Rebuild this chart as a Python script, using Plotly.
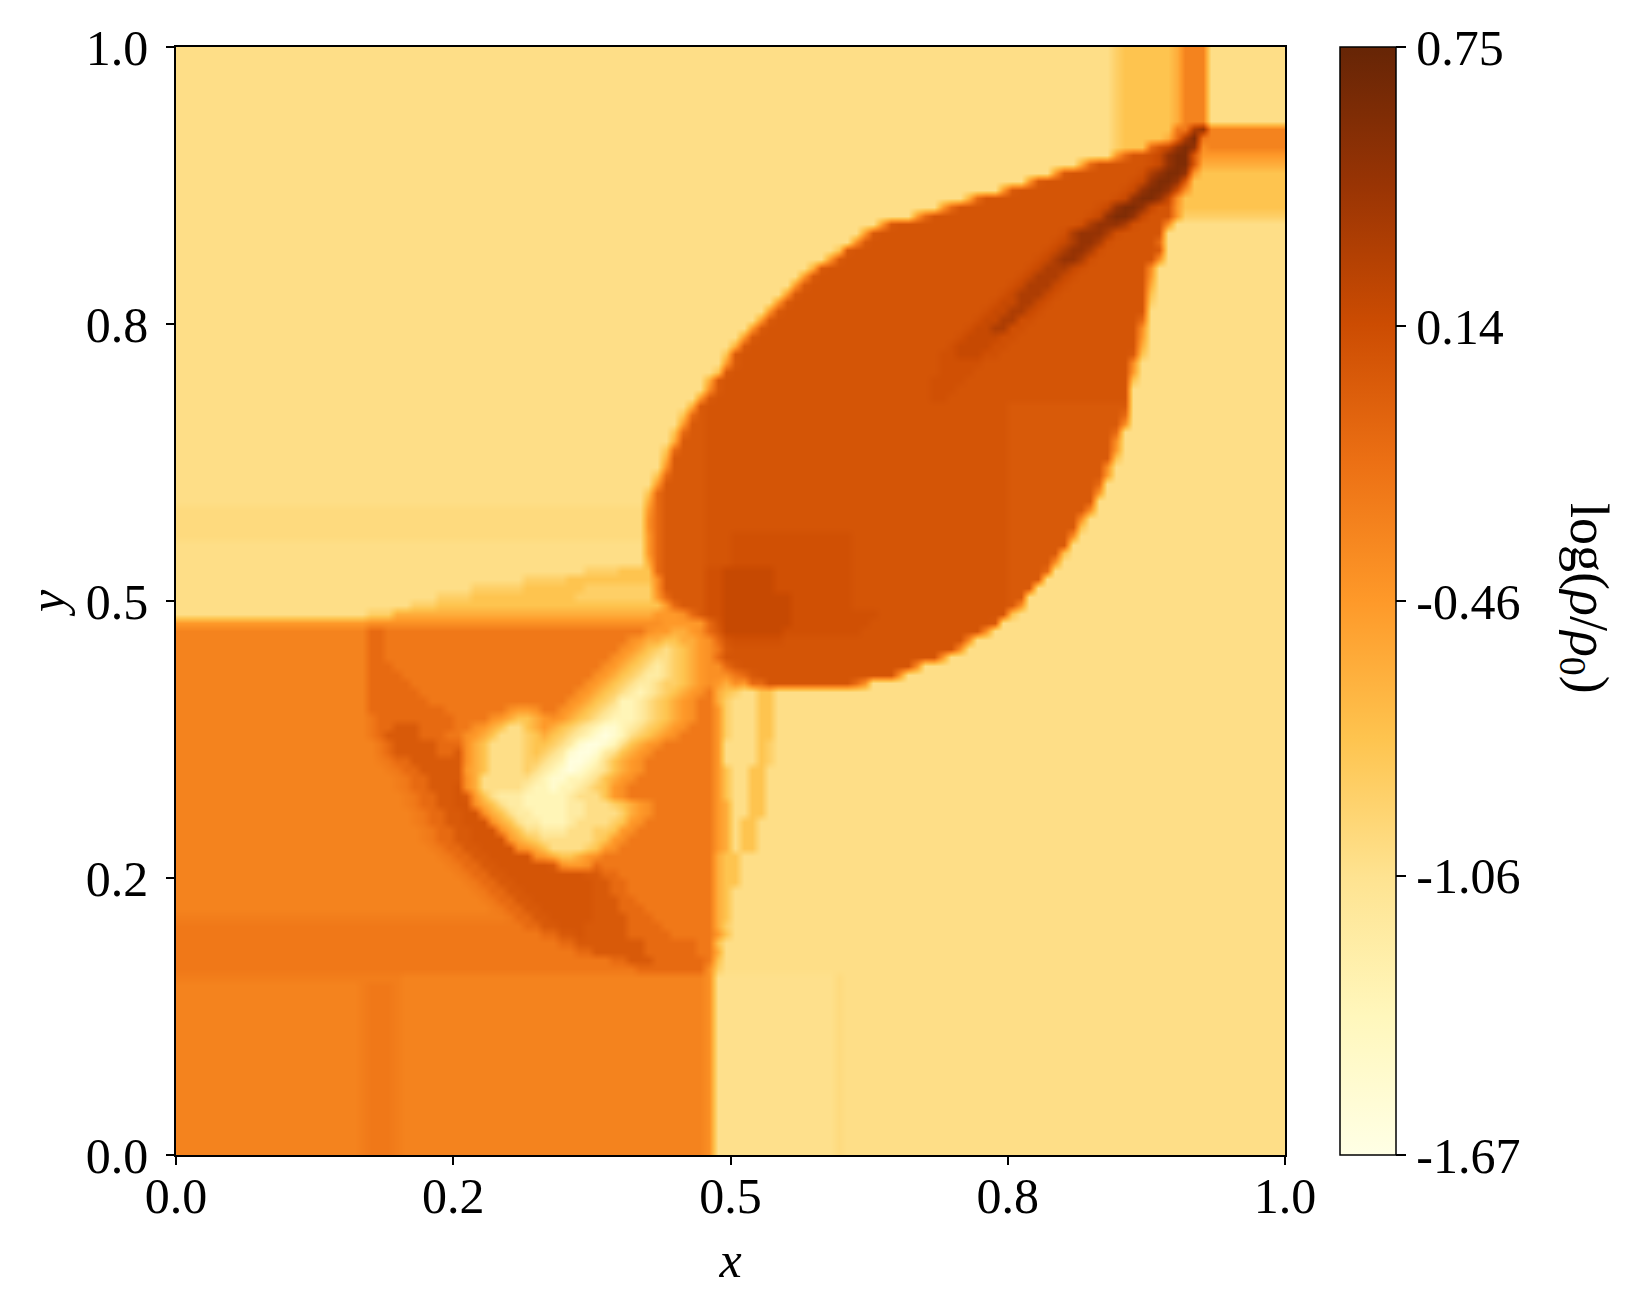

import plotly.graph_objects as go

# the browser puts an 8 px body margin round the figure
PAGE_PAD = 8
WIDTH, HEIGHT = 1635 - 2 * PAGE_PAD, 1314 - 2 * PAGE_PAD

# plot box in page pixels
BOX_L, BOX_R, BOX_T, BOX_B = 176, 1285, 47, 1155
BOX_W, BOX_H = BOX_R - BOX_L, BOX_B - BOX_T

x_ticks = [0.0, 0.25, 0.5, 0.75, 1.0]
x_labels = ["0.0", "0.2", "0.5", "0.8", "1.0"]
bar_ticks = [-1.67, -1.06, -0.46, 0.14, 0.75]
bar_labels = ["-1.67", "-1.06", "-0.46", "0.14", "0.75"]

# one letter per density level, estimated from the colours
levels = {
    "k": -1.62, "n": -1.50, "m": -1.33, "l": -1.19, ":": -1.04, ".": -1.02,
    ",": -0.98, "b": -0.87, "c": -0.76, "d": -0.60, "e": -0.46, "f": -0.39,
    "o": -0.30, "h": -0.26, "p": -0.22, "q": -0.11, "r": 0.03, "s": 0.07,
    "t": 0.11, "u": 0.18, "v": 0.33, "w": 0.47, "x": 0.60, "y": 0.68,
}

# 128 rows from the top of the box, runs of "count + level", 128 cells per row
rows = ["108. 1b 6c 1d 3o 9."] * 9 + [
    "108. 1b 6c 1p 1p 1v 1w 9o",
    "108. 1b 5c 1d 1q 1v 1x 1p 9o",
    "108. 1b 3c 1q 1s 1u 1w 1x 1w 1f 9o",
    "108. 1e 1q 2s 1t 1u 1w 2x 1r 10e",
    "104. 1d 1q 6s 1t 1u 1w 2x 1r 10d",
    "101. 1e 1r 8s 1t 1v 1w 2x 1w 1e 10c",
    "98. 1e 1r 10s 1t 1u 1w 2x 1w 1r 1c 10c",
    "95. 1e 1r 12s 1t 1u 1w 2x 1w 1t 1f 11c",
    "91. 1d 1q 15s 1t 1u 1w 2x 1w 1u 1f 12c",
    "88. 1e 1q 16s 1t 1u 1w 2x 1w 1u 2s 1e 12c",
    "85. 1e 1q 18s 1t 1u 1w 2x 1w 1u 3s 1e 12b",
    "81. 1e 1r 21s 1t 1v 1w 2w 1v 1t 3s 1f 13.",
    "79. 1e 1r 21s 1t 1v 1w 2w 1v 1t 5s 14.",
    "78. 1f 1r 21s 1t 1u 1v 2w 1v 1t 5s 1q 14.",
    "76. 1c 1r 22s 1t 1u 1v 2w 1v 1t 6s 1r 14.",
    "75. 1e 1r 22s 1t 1u 1v 2w 1v 1t 7s 1f 14.",
    "73. 1d 1r 23s 1t 1u 1v 2v 1u 1t 7s 1f 15.",
    "72. 1e 1r 23s 1t 1u 1v 2v 1u 1t 8s 1e 15.",
    "71. 1e 1r 23s 1t 1u 1v 2v 1u 1t 9s 1d 15.",
    "70. 1e 1r 23s 1t 1u 1v 2v 1u 1t 10s 1c 15.",
    "69. 1e 1r 23s 1t 1u 1u 2v 1u 1t 11s 1b 15.",
    "68. 1e 1r 23s 1t 1u 1u 2v 1u 1t 12s 16.",
    "67. 1e 1r 23s 1t 1u 1u 2v 1t 1t 12s 1q 16.",
    "66. 1e 1r 23s 1t 2u 2v 2t 13s 1f 16.",
    "65. 1e 1r 23s 1t 4u 2t 14s 1e 16.",
    "64. 1d 1r 23s 1t 4u 2t 15s 1d 16.",
    "63. 1c 1r 23s 2t 3u 2t 15s 1r 1c 16.",
    "63. 1e 1r 23s 5t 17s 1f 17.",
    "62. 1c 1r 24s 4t 18s 1e 17.",
    "61. 1d 1r 24s 4t 19s 1c 17.",
    "61. 1f 1r 24s 3t 20s 18.",
    "60. 1e 1r 25s 2t 21s 18.",
    "59. 1d 1r 35s 14r 18.",
    "58. 1c 1q 1r 35s 13r 1q 18.",
    "58. 1e 2r 35s 13r 1f 18.",
    "57. 1c 1q 2r 35s 12r 1q 19.",
    "57. 1d 3r 35s 12r 1f 19.",
    "56. 1c 1q 3r 35s 12r 1e 19.",
    "56. 1d 4r 35s 12r 1c 19.",
    "56. 1f 4r 35s 11r 1f 20.",
    "55. 1c 1q 4r 35s 11r 1e 20.",
    "55. 1e 5r 35s 10r 1q 21.",
    "54. 1c 1q 5r 35s 10r 1e 21.",
    "54. 1d 1q 5r 35s 10r 22.",
    "54, 1e 1q 5r 35s 9r 1f 22.",
    "54, 1f 1q 5r 35s 8r 1f 23.",
    "54, 1f 1q 5r 35s 8r 1c 23.",
    "54, 1e 1q 5r 3s 14t 18s 7r 1f 24.",
    "54. 1e 1q 5r 3s 14t 18s 7r 25.",
    "54. 1e 1q 5r 3s 14t 18s 6r 1c 25.",
    "54. 1d 1q 5r 3s 14t 18s 5r 1f 26.",
    "47. 4b 4c 1q 5r 2t 6u 9t 18s 4r 1q 27.",
    "40. 5b 10c 1f 5r 2t 6u 9t 18s 4r 28.",
    "34. 6b 7c 8b 1f 5r 2t 6u 9t 18s 3r 29.",
    "30. 4b 12c 9b 1e 1q 4r 2t 8u 7t 18s 2r 30.",
    "27. 3b 26c 1e 1q 3r 2t 8u 7t 18s 1r 1f 30.",
    "22. 3b 30d 2e 1e 1f 1q 1r 2t 8u 10t 15s 1c 31.",
    "22e 34f 5e 1q 1s 8u 9t 14s 1r 33.",
    "22o 2q 30p 1f 2e 2d 1e 1f 1q 1r 7u 9t 14s 1f 34.",
    "22o 2q 28p 1f 1e 2d 2c 2d 1e 1f 1q 1s 6t 21s 1f 36.",
    "22o 2q 27p 1f 1e 1d 1c 1b 1. 1b 1c 1d 1e 1f 1p 1r 26s 1f 37.",
    "22o 2q 26p 1f 1e 1d 1c 1b 2. 1b 1c 1d 1e 1f 1q 1s 24s 1e 39.",
    "22o 3q 24p 1f 1e 1d 1c 1b 1. 1l 1. 1b 1c 1d 1e 2f 1q 1r 20s 1f 42.",
    "22o 4q 22p 1f 1e 1d 1c 1b 1. 2l 1. 1b 1c 1d 1e 3f 1p 1q 1r 16s 1f 44.",
    "22o 5q 20p 1f 1e 1d 1c 1b 1. 2l 1. 2b 1c 1d 1e 1f 1e 1d 1f 1e 2q 10s 1q 1f 48.",
    "22o 6q 18p 1f 1e 1d 1c 1b 1. 1l 1m 1l 1. 1b 1c 1d 1e 1f 1p 1d 1c 1b 2. 2c 59.",
    "22o 7q 16p 1f 1e 1d 1c 1b 1. 2m 1l 1. 1b 1c 1d 1e 1f 2p 1d 1b 3. 2c 59.",
    "22o 9q 7p 1f 2e 1f 2p 1f 1e 1d 1c 1b 1. 1l 2m 1l 1. 1b 1c 1d 1e 1f 2p 1e 1b 3. 2c 59.",
    "22o 1p 9q 4p 1f 1e 1d 2c 1d 1e 1f 1e 1d 1c 1b 1. 1l 3m 1l 1. 1b 1c 1d 1e 1f 2p 1e 1b 3. 2c 59.",
    "22o 1p 2q 3r 4q 2p 1f 1e 1d 1c 2. 1c 1d 1e 1d 1c 1b 1. 1l 1m 2n 1m 1l 1. 1b 1c 1d 1e 1f 3p 1e 1b 3. 2c 59.",
    "22o 1p 1q 4r 3q 2p 1f 1e 1d 1c 3. 1b 1c 1d 1c 1b 1. 1l 1m 1n 1k 1n 1m 1. 1b 1c 1d 1e 1f 4p 1e 1b 3. 2c 59.",
    "23o 1p 1q 5r 3q 1f 1d 1c 4. 1b 2c 1b 1. 1l 1n 2k 1n 1m 1. 1c 1d 1e 1f 6p 1e 4. 1c 1b 59.",
    "23o 1p 1q 5r 2q 1r 1f 1d 1c 4. 1b 1c 1b 1. 1l 1n 2k 1n 1l 1. 1c 1d 1e 1f 7p 1e 4. 1c 1b 59.",
    "23o 1h 1p 2q 6r 1f 1d 1c 4. 2b 1. 1l 1m 2k 1n 1m 1. 1c 1d 1e 1f 8p 1e 4. 1c 1b 59.",
    "24o 1h 1p 2q 5r 1e 1d 1c 4. 1b 1. 1l 1m 1n 1k 1n 1m 1l 1. 1c 1d 1e 1f 8p 1e 1c 2. 2c 60.",
    "25o 1h 1p 2q 4r 1f 1d 6. 1l 1m 2n 2m 1l 1. 1c 1d 1e 1f 9p 1e 1c 2. 2c 60.",
    "25o 1h 1p 2q 3r 1s 1f 1d 5. 1l 2m 1n 2m 1l 1. 1b 1c 1e 1f 10p 1e 1c 2. 2c 60.",
    "26o 1h 1p 2q 2r 1s 1r 1e 1c 1. 3l 5m 1l 3. 1c 1e 1f 10p 1e 1c 2. 2c 60.",
    "26o 1h 1p 2q 2r 2s 1f 1d 1c 1. 2l 5m 2l 3. 1b 1c 1d 1e 1f 7p 1e 1d 2. 2c 60.",
    "27o 1h 1p 2q 2r 2s 1f 1d 1c 1. 2l 4m 2l 4. 1b 1d 1e 1f 7p 1e 1d 2. 2c 60.",
    "27o 1h 1p 2q 2r 3s 1f 1d 1c 1. 2l 3m 1l 4. 1b 1c 1e 1f 8p 1e 1d 1. 2c 61.",
    "28o 1h 1p 2q 2r 3s 1f 1d 1c 2. 3l 3. 2b 1c 1e 1f 9p 1e 1d 1. 2c 61.",
    "28o 1h 1p 2q 2r 4s 1e 1d 1c 1b 6. 1b 1c 1e 1f 10p 1e 1d 1. 2c 61.",
    "29o 1h 1p 2q 2r 4s 1f 1e 1d 1c 4. 1b 1c 1e 1f 11p 1e 1d 1. 2c 61.",
    "30o 1h 1p 2q 2r 5s 1f 1e 1d 2c 1d 1e 1f 13p 1d 2c 63.",
    "31o 1h 1p 2q 2r 6s 1r 1f 2e 1f 1q 13p 1d 2c 63.",
    "32o 1h 1p 2q 2r 9s 2r 2q 11p 1d 2c 63.",
    "33o 1h 1p 2q 2r 9s 2r 2q 10p 1d 2c 63.",
    "34o 1h 1p 2q 2r 8s 2r 2q 10p 1d 1c 64.",
    "35o 1h 1p 2q 2r 7s 3r 2q 9p 1d 1c 64.",
    "36o 1h 1p 2q 2r 6s 3r 3q 8p 1d 1c 64.",
    "38h 1p 2q 2r 5s 4r 3q 7p 1d 1c 64.",
    "40p 2q 2r 3s 5r 4q 6p 1d 1b 64.",
    "42p 2q 2r 1s 5r 5q 5p 1e 1c 64.",
    "44p 2q 8r 6q 2p 1c 65.",
    "46p 2q 6r 6q 2p 1d 65.",
    "50p 2q 3r 6q 1p 1c 65.",
    "53p 8q 1f 1b 65.",
    "26h 35o 1f 14: 1, 51.",
] + ["21o 1h 3p 1h 35o 1f 14: 1, 51."] * 20


def expand(row):
    cells = []
    for run in row.split():
        cells += [levels[run[-1]]] * int(run[:-1])
    return (cells + cells[-1:] * 128)[:128]


z = [expand(r) for r in reversed(rows)]
n = len(z)
grid = [(i + 0.5) / n for i in range(n)]

FONT = "Liberation Serif"
SIZE = 50
fig = go.Figure(go.Heatmap(
    x=grid,
    y=grid,
    z=z,
    zsmooth="best",
    colorscale="YlOrBr",
    zmin=-1.67,
    zmax=0.75,
    colorbar=dict(
        x=(1340 - BOX_L) / BOX_W,
        xanchor="left",
        y=1,
        yanchor="top",
        len=1,
        lenmode="fraction",
        thickness=56,
        thicknessmode="pixels",
        outlinecolor="black",
        outlinewidth=1.5,
        xpad=0,
        ypad=0,
        ticks="outside",
        ticklen=10,
        tickwidth=1.5,
        tickcolor="black",
        tickvals=bar_ticks,
        ticktext=bar_labels,
        tickfont=dict(family=FONT, size=SIZE, color="black"),
    ),
))

axis = dict(
    range=[0, 1],
    tickvals=x_ticks,
    ticktext=x_labels,
    ticks="outside",
    ticklen=8,
    tickwidth=1.5,
    tickcolor="black",
    tickfont=dict(family=FONT, size=SIZE, color="black"),
    showline=True,
    linecolor="black",
    linewidth=1.5,
    mirror=True,
    showgrid=False,
    zeroline=False,
)

fig.update_xaxes(axis, ticklabelstandoff=-12,
                 title=dict(text="<i>x</i>", font=dict(family=FONT, size=SIZE, color="black"), standoff=19))
fig.update_yaxes(axis, ticklabelstandoff=8,
                 title=dict(text="<i>y</i>", font=dict(family=FONT, size=SIZE, color="black"), standoff=5))

fig.add_annotation(
    text="log(<i>ρ</i>/<i>ρ</i><sub>0</sub>)",
    xref="paper", yref="paper",
    x=(1586 - BOX_L) / BOX_W, y=1 - (598 - BOX_T) / BOX_H,
    xanchor="center",
    yanchor="middle",
    textangle=90,
    showarrow=False,
    font=dict(family=FONT, size=54, color="black"),
)

fig.update_layout(
    width=WIDTH,
    height=HEIGHT,
    margin=dict(
        l=BOX_L - PAGE_PAD,
        r=WIDTH - (BOX_R - PAGE_PAD),
        t=BOX_T - PAGE_PAD,
        b=HEIGHT - (BOX_B - PAGE_PAD),
        autoexpand=False,
    ),
    paper_bgcolor="white",
    plot_bgcolor="white",
)

fig.write_html("out.html")
